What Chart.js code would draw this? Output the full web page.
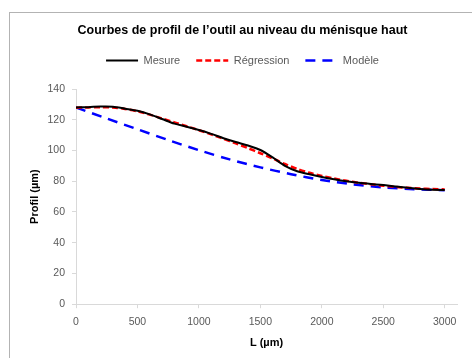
<!DOCTYPE html>
<html>
<head>
<meta charset="utf-8">
<script src="https://cdn.jsdelivr.net/npm/chart.js@4"></script>
<style>
  html, body { margin: 0; padding: 0; background: #fff; }
  #wrap { width: 472px; height: 358px; position: relative; }
</style>
</head>
<body>
<div id="wrap"><canvas id="myChart" width="472" height="358"></canvas></div>
<script>
  var titre = "Courbes de profil de l\u2019outil au niveau du ménisque haut";
  var noms = ["Mesure", "Régression", "Modèle"];

  // L (µm) et profil (µm)
  var lMesure = [0, 100, 200, 300, 400, 500, 600, 700, 800, 900, 1000, 1100, 1200, 1300, 1400, 1500,
                 1600, 1700, 1800, 1900, 2000, 2100, 2200, 2300, 2400, 2500, 2600, 2700, 2800, 2900, 3000];
  var mesure = [128, 128.2, 128.6, 128.5, 127.2, 125.8, 123.5, 120.5, 117.5, 115.5, 113.3, 110.8, 108, 105.5, 103.2, 100.3,
                95.5, 90, 86.5, 84.5, 82.8, 81.3, 80, 79, 78.2, 77.5, 76.5, 75.8, 75, 74.5, 74.3];
  var regression = [127.8, 128, 128.2, 128, 127, 125.5, 123.3, 120.8, 118.3, 115.8, 113.2, 110.5, 107.6, 104.6, 101.5, 98.2,
                    94.8, 91.2, 88, 85.5, 83.5, 81.8, 80.3, 79, 78, 77.1, 76.3, 75.7, 75.2, 74.9, 74.7];

  var lModele = [0, 250, 500, 750, 1000, 1250, 1500, 1750, 2000, 2250, 2500, 2750, 3000];
  var modele = [128, 120.8, 113.8, 106.8, 100.2, 94.2, 89, 84.6, 80.8, 78, 76, 74.8, 74.2];

  var xTicks = [0, 500, 1000, 1500, 2000, 2500, 3000];
  var yTicks = [0, 20, 40, 60, 80, 100, 120, 140];

  function points(xs, ys) {
    var out = [];
    for (var i = 0; i < xs.length; i++) out.push({x: xs[i], y: ys[i]});
    return out;
  }

  var cadre = {
    id: 'cadre',
    beforeInit: function(chart) {
      // un peu plus d'espace sous la legende
      var fit = chart.legend.fit;
      chart.legend.fit = function() {
        fit.call(this);
        this.height += 13;
      };
    },
    beforeDraw: function(chart) {
      var c = chart.ctx;
      c.save();
      c.strokeStyle = '#b3b3b3';
      c.lineWidth = 1;
      c.strokeRect(9.5, 12.5, 600, 500);
      c.restore();
    }
  };

  var gris = '#595959';
  var police = 'Liberation Sans';
  var ctx = document.getElementById('myChart').getContext('2d');
  var chart = new Chart(ctx, {
    type: 'scatter',
    data: {
      datasets: [{
        label: noms[0],
        data: points(lMesure, mesure),
        showLine: true,
        borderColor: '#000000',
        backgroundColor: '#000000',
        borderWidth: 2,
        pointRadius: 0,
        tension: 0.3
      }, {
        label: noms[1],
        data: points(lMesure, regression),
        showLine: true,
        borderColor: '#ff0000',
        backgroundColor: '#ff0000',
        borderWidth: 2.5,
        borderDash: [6, 3],
        pointRadius: 0,
        tension: 0.3
      }, {
        label: noms[2],
        data: points(lModele, modele),
        showLine: true,
        borderColor: '#0000ff',
        backgroundColor: '#0000ff',
        borderWidth: 2.5,
        borderDash: [10, 7],
        pointRadius: 0,
        tension: 0.3
      }]
    },
    options: {
      responsive: false,
      animation: false,
      devicePixelRatio: 1,
      layout: { padding: { left: 28, right: 15, top: 23, bottom: 8 } },
      plugins: {
        title: {
          display: true,
          text: titre,
          color: '#000000',
          font: { family: police, size: 12.5, weight: 'bold' },
          padding: { top: 0, bottom: 1 }
        },
        legend: {
          display: true,
          labels: {
            usePointStyle: true,
            pointStyleWidth: 32,
            boxHeight: 8,
            padding: 16,
            color: gris,
            font: { family: police, size: 11 },
            generateLabels: function(chart) {
              return chart.data.datasets.map(function(ds, i) {
                return {
                  text: ds.label,
                  strokeStyle: ds.borderColor,
                  fillStyle: ds.borderColor,
                  lineWidth: ds.borderWidth,
                  lineDash: ds.borderDash || [],
                  pointStyle: 'line',
                  fontColor: gris,
                  hidden: false,
                  datasetIndex: i
                };
              });
            }
          }
        },
        tooltip: { enabled: false }
      },
      scales: {
        x: {
          type: 'linear',
          min: 0,
          max: 3100,
          afterBuildTicks: function(axis) {
            axis.ticks = xTicks.map(function(v) { return {value: v}; });
          },
          ticks: {
            color: gris, font: { family: police, size: 10.5 }, padding: 8, maxRotation: 0,
            callback: function(v) { return String(v); }
          },
          grid: { drawOnChartArea: false, color: '#d9d9d9', tickLength: 4 },
          border: { color: '#d9d9d9' },
          title: {
            display: true,
            text: 'L (µm)',
            color: '#000000',
            font: { family: police, size: 11, weight: 'bold' },
            padding: { top: 0, bottom: 0 }
          }
        },
        y: {
          min: 0,
          max: 140,
          afterBuildTicks: function(axis) {
            axis.ticks = yTicks.map(function(v) { return {value: v}; });
          },
          afterFit: function(axis) { axis.width = 48; },
          ticks: {
            color: gris, font: { family: police, size: 10.5 }, padding: 7,
            callback: function(v) { return String(v); }
          },
          grid: { drawOnChartArea: false, color: '#d9d9d9', tickLength: 4 },
          border: { color: '#d9d9d9' },
          title: {
            display: true,
            text: 'Profil (µm)',
            color: '#000000',
            font: { family: police, size: 11, weight: 'bold' },
            padding: { top: 0, bottom: 4 }
          }
        }
      }
    },
    plugins: [cadre]
  });
</script>
</body>
</html>
